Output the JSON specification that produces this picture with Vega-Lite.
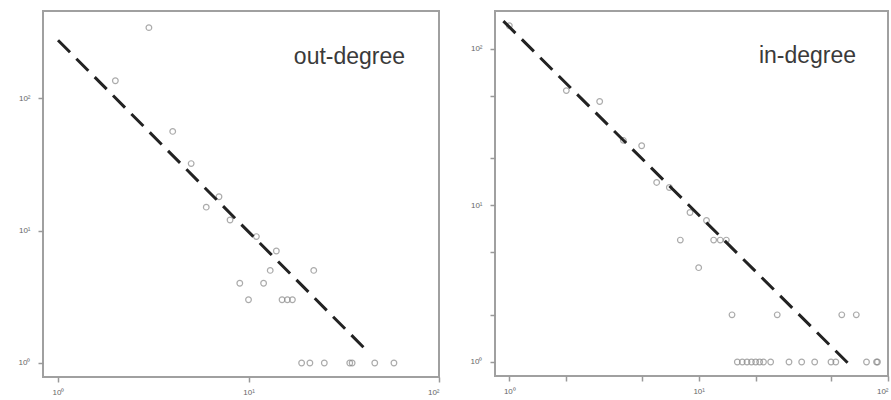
{
  "$schema": "https://vega.github.io/schema/vega-lite/v6.json",
  "padding": {"left": 16, "top": 10, "right": 0, "bottom": 0},
  "spacing": 27,
  "config": {
    "view": {"stroke": "#a0a0a0", "strokeWidth": 2},
    "axis": {"domain": false, "grid": false, "title": null, "tickColor": "#999999", "tickSize": 5, "tickWidth": 1.5, "labelColor": "#666666", "labelFontSize": 8, "labelFont": "Liberation Sans"},
    "axisY": {"minExtent": 26, "maxExtent": 26, "labelPadding": 8},
    "axisX": {"labelPadding": 6}
  },
  "datasets": {
    "out": [
      {"x": 3, "y": 340}, {"x": 2, "y": 135}, {"x": 4, "y": 56}, {"x": 5, "y": 32},
      {"x": 6, "y": 15}, {"x": 7, "y": 18}, {"x": 8, "y": 12}, {"x": 9, "y": 4},
      {"x": 10, "y": 3}, {"x": 11, "y": 9}, {"x": 12, "y": 4}, {"x": 13, "y": 5},
      {"x": 14, "y": 7}, {"x": 15, "y": 3}, {"x": 16, "y": 3}, {"x": 17, "y": 3},
      {"x": 22, "y": 5}, {"x": 19, "y": 1}, {"x": 21, "y": 1}, {"x": 25, "y": 1},
      {"x": 34, "y": 1}, {"x": 35, "y": 1}, {"x": 46, "y": 1}, {"x": 58, "y": 1}
    ],
    "in": [
      {"x": 1, "y": 140}, {"x": 2, "y": 54}, {"x": 3, "y": 46}, {"x": 4, "y": 26},
      {"x": 5, "y": 24}, {"x": 6, "y": 14}, {"x": 7, "y": 13}, {"x": 8, "y": 6},
      {"x": 9, "y": 9}, {"x": 10, "y": 4}, {"x": 11, "y": 8}, {"x": 12, "y": 6},
      {"x": 13, "y": 6}, {"x": 14, "y": 6}, {"x": 15, "y": 2}, {"x": 26, "y": 2},
      {"x": 57, "y": 2}, {"x": 68, "y": 2},
      {"x": 16, "y": 1}, {"x": 17, "y": 1}, {"x": 18, "y": 1}, {"x": 19, "y": 1},
      {"x": 20, "y": 1}, {"x": 21, "y": 1}, {"x": 22, "y": 1}, {"x": 24, "y": 1},
      {"x": 30, "y": 1}, {"x": 35, "y": 1}, {"x": 41, "y": 1}, {"x": 50, "y": 1},
      {"x": 53, "y": 1}, {"x": 77, "y": 1}, {"x": 87, "y": 1}, {"x": 88, "y": 1}
    ],
    "outfit": [{"x": 1, "y": 273}, {"x": 43, "y": 1.19}],
    "infit": [{"x": 0.93, "y": 150}, {"x": 63.8, "y": 0.94}]
  },
  "hconcat": [
    {
      "width": 396,
      "height": 366,
      "layer": [
        {
          "data": {"name": "out"},
          "mark": {"type": "point", "shape": "circle", "filled": false, "size": 32, "stroke": "#888888", "strokeWidth": 1.2},
          "encoding": {
            "x": {"field": "x", "type": "quantitative", "scale": {"type": "log", "domain": [0.834, 100], "nice": false},
                  "axis": {"values": [1, 10, 100], "labelExpr": "datum.value == 1 ? '10⁰' : datum.value == 10 ? '10¹' : '10²'"}},
            "y": {"field": "y", "type": "quantitative", "scale": {"type": "log", "domain": [0.784, 454], "nice": false},
                  "axis": {"values": [1, 10, 100], "labelExpr": "datum.value == 1 ? '10⁰' : datum.value == 10 ? '10¹' : '10²'"}}
          }
        },
        {
          "data": {"name": "outfit"},
          "mark": {"type": "line", "color": "#222222", "strokeWidth": 3, "strokeDash": [17, 9]},
          "encoding": {
            "x": {"field": "x", "type": "quantitative"},
            "y": {"field": "y", "type": "quantitative"}
          }
        },
        {
          "data": {"values": [{}]},
          "mark": {"type": "text", "align": "left", "baseline": "middle", "fontSize": 23, "font": "Liberation Sans", "color": "#3a3a3a"},
          "encoding": {
            "x": {"datum": 17.3, "type": "quantitative"},
            "y": {"datum": 204, "type": "quantitative"},
            "text": {"value": "out-degree"}
          }
        }
      ]
    },
    {
      "width": 393,
      "height": 365,
      "layer": [
        {
          "data": {"name": "in"},
          "mark": {"type": "point", "shape": "circle", "filled": false, "size": 32, "stroke": "#888888", "strokeWidth": 1.2},
          "encoding": {
            "x": {"field": "x", "type": "quantitative", "scale": {"type": "log", "domain": [0.84, 100], "nice": false},
                  "axis": {"values": [1, 2, 5, 10, 20, 50, 100], "labelExpr": "datum.value == 1 ? '10⁰' : datum.value == 10 ? '10¹' : datum.value == 100 ? '10²' : ''"}},
            "y": {"field": "y", "type": "quantitative", "scale": {"type": "log", "domain": [0.814, 174], "nice": false},
                  "axis": {"values": [1, 2, 5, 10, 20, 50, 100], "labelExpr": "datum.value == 1 ? '10⁰' : datum.value == 10 ? '10¹' : datum.value == 100 ? '10²' : ''"}}
          }
        },
        {
          "data": {"name": "infit"},
          "mark": {"type": "line", "color": "#222222", "strokeWidth": 3, "strokeDash": [17, 9]},
          "encoding": {
            "x": {"field": "x", "type": "quantitative"},
            "y": {"field": "y", "type": "quantitative"}
          }
        },
        {
          "data": {"values": [{}]},
          "mark": {"type": "text", "align": "left", "baseline": "middle", "fontSize": 23, "font": "Liberation Sans", "color": "#3a3a3a"},
          "encoding": {
            "x": {"datum": 20.8, "type": "quantitative"},
            "y": {"datum": 89.8, "type": "quantitative"},
            "text": {"value": "in-degree"}
          }
        }
      ]
    }
  ]
}
